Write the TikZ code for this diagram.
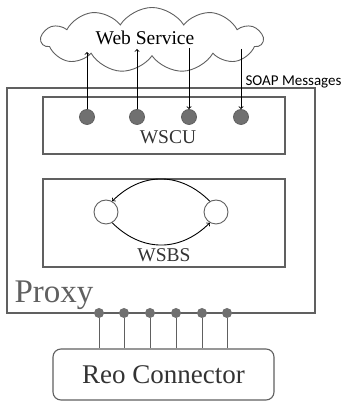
\documentclass[tikz,border=0pt]{standalone}
\usepackage{fontspec}
\setmainfont{Liberation Serif}
\newfontfamily\soapfont{Carlito}
\usepackage{tikz}
\usetikzlibrary{shapes.symbols,arrows}

\definecolor{boxgray}{HTML}{606060}
\definecolor{pingray}{HTML}{707070}
\definecolor{txtgray}{HTML}{333333}

\tikzset{
  unitbox/.style={draw=boxgray,line width=1.1pt},
  port/.style={circle,draw=boxgray,fill=pingray,line width=0.8pt,minimum size=15pt,inner sep=0pt},
  pin/.style={circle,fill=pingray,minimum size=10pt,inner sep=0pt},
  state/.style={circle,draw=boxgray,fill=white,line width=0.9pt,minimum size=24pt,inner sep=0pt},
  msg/.style={line width=0.9pt,-to},
  lbl/.style={text=txtgray,font=\fontsize{19.5}{20}\selectfont}
}

\begin{document}
\begin{tikzpicture}[x=1pt,y=1pt]
   \useasboundingbox (0,0) rectangle (341,403);
   % web service cloud
   \node[cloud,draw=boxgray,line width=0.9pt,cloud puffs=11,cloud puff arc=115,aspect=3.4,
         minimum width=221pt,minimum height=65pt,inner sep=0pt] (ws) at (152,363) {};
   \node[lbl,text=black] (wstext) at (145,365) {Web Service};
   % proxy
   \draw[unitbox] (7,315) rectangle (315,90);
   \node[anchor=base west,text=boxgray,font=\fontsize{33}{34}\selectfont] (proxy) at (11,100) {Proxy};
   % WSCU
   \draw[unitbox] (43,306) rectangle (285,249);
   \node[lbl] (wscu) at (168,266) {WSCU};
   \foreach \i/\x/\y in {1/87/351,2/137/354,3/189/355,4/241/354} {
      \node[port] (c\i) at (\x,286) {};
      \coordinate (a\i) at (\x,\y);
   }
   \draw[msg] (c1) -- (a1);
   \draw[msg] (c2) -- (a2);
   \draw[msg] (a3) -- (c3);
   \draw[msg] (a4) -- (c4);
   \node[anchor=west,font=\soapfont\fontsize{15}{16}\selectfont] (soap) at (242,321) {SOAP Messages};
   % WSBS
   \draw[unitbox] (43,224) rectangle (285,136);
   \node[lbl] (wsbs) at (164,148) {WSBS};
   \node[state] (s1) at (106,191) {};
   \node[state] (s2) at (216,191) {};
   \draw[msg] (s2.120) to[out=135,in=45,looseness=1.1] (s1.60);
   \draw[msg] (s1.-60) to[out=-45,in=-135,looseness=1.1] (s2.-120);
   % pins and reo connector
   \node[draw=boxgray,rounded corners=8pt,line width=1.1pt,minimum width=221pt,minimum height=51pt,
         lbl,font=\fontsize{27}{28}\selectfont] (reo) at (163.5,28.5) {Reo Connector};
   \foreach \i/\x in {1/99,2/124,3/150,4/176,5/202,6/227} {
      \node[pin] (p\i) at (\x,90) {};
      \draw[boxgray,line width=0.8pt] (p\i) -- (p\i |- reo.north);
   }
\end{tikzpicture}
\end{document}
